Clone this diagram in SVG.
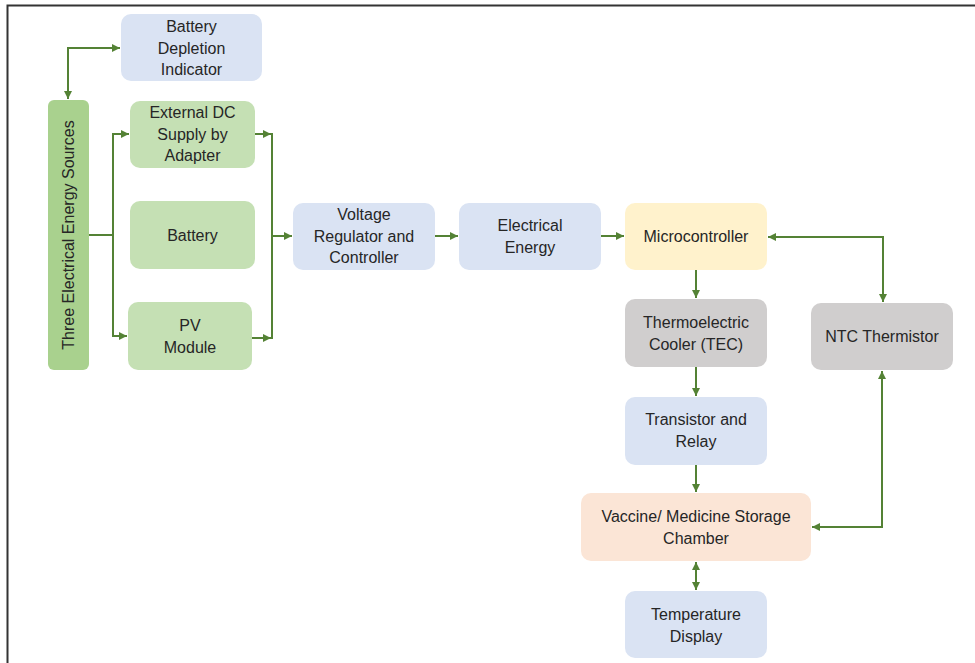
<svg xmlns="http://www.w3.org/2000/svg" width="975" height="663" viewBox="0 0 975 663">
<defs>
<marker id="ah" viewBox="0 0 8 8" refX="8" refY="4" markerWidth="8" markerHeight="8" markerUnits="userSpaceOnUse" orient="auto-start-reverse">
<path d="M0,0 L8,4 L0,8 Z" fill="#548235"/>
</marker>
</defs>
<style>
.n{stroke:none}
.blue{fill:#DAE3F3}
.green{fill:#C5E0B4}
.dgreen{fill:#A9D18E}
.yel{fill:#FFF2CC}
.gray{fill:#D0CECE}
.peach{fill:#FBE5D6}
text{font-family:"Liberation Sans","Noto Sans",sans-serif;font-size:16px;fill:#262626;text-anchor:middle}
.c{fill:none;stroke:#548235;stroke-width:2}
</style>
<rect x="0" y="0" width="975" height="663" fill="#ffffff"/>
<path d="M7.5,663 V5.5 H975" fill="none" stroke="#333333" stroke-width="2"/>

<g id="battery-depletion-indicator"><rect class="n blue" x="121" y="14" width="141" height="67" rx="10"/>
<text x="191.5" y="32">Battery</text><text x="191.5" y="53.5">Depletion</text><text x="191.5" y="75">Indicator</text></g>

<g id="three-sources"><rect class="n dgreen" x="48" y="100" width="41" height="270" rx="6"/>
<text transform="translate(74,235) rotate(-90)">Three Electrical Energy Sources</text></g>

<g id="external-dc"><rect class="n green" x="130" y="101" width="125" height="67" rx="10"/>
<text x="192.5" y="118">External DC</text><text x="192.5" y="139.5">Supply by</text><text x="192.5" y="161">Adapter</text></g>

<g id="battery"><rect class="n green" x="130" y="201" width="125" height="68" rx="10"/>
<text x="192.5" y="241">Battery</text></g>

<g id="pv-module"><rect class="n green" x="128" y="302" width="124" height="68" rx="10"/>
<text x="190" y="331">PV</text><text x="190" y="353">Module</text></g>

<g id="voltage-regulator"><rect class="n blue" x="293" y="203" width="142" height="67" rx="10"/>
<text x="364" y="220">Voltage</text><text x="364" y="241.5">Regulator and</text><text x="364" y="263">Controller</text></g>

<g id="electrical-energy"><rect class="n blue" x="459" y="203" width="142" height="67" rx="10"/>
<text x="530" y="231">Electrical</text><text x="530" y="253">Energy</text></g>

<g id="microcontroller"><rect class="n yel" x="625" y="203" width="142" height="67" rx="10"/>
<text x="696" y="241.5">Microcontroller</text></g>

<g id="tec"><rect class="n gray" x="625" y="299" width="142" height="68" rx="10"/>
<text x="696" y="328">Thermoelectric</text><text x="696" y="350">Cooler (TEC)</text></g>

<g id="ntc-thermistor"><rect class="n gray" x="811" y="303" width="142" height="67" rx="10"/>
<text x="882" y="341.5">NTC Thermistor</text></g>

<g id="transistor-relay"><rect class="n blue" x="625" y="397" width="142" height="68" rx="10"/>
<text x="696" y="425">Transistor and</text><text x="696" y="447">Relay</text></g>

<g id="storage-chamber"><rect class="n peach" x="581" y="493" width="230" height="68" rx="10"/>
<text x="696" y="522">Vaccine/ Medicine Storage</text><text x="696" y="544">Chamber</text></g>

<g id="temperature-display"><rect class="n blue" x="625" y="591" width="142" height="67" rx="10"/>
<text x="696" y="620">Temperature</text><text x="696" y="642">Display</text></g>

<g id="connectors">
<path class="c" d="M68,99 V48 H120" marker-start="url(#ah)" marker-end="url(#ah)"/>
<path class="c" d="M89,235 H112"/>
<path class="c" d="M113,235 V134"/>
<path class="c" d="M113,235 V336"/>
<path class="c" d="M112,134 H129" marker-end="url(#ah)"/>
<path class="c" d="M112,336 H127" marker-end="url(#ah)"/>
<path class="c" d="M255,134 H271" marker-end="url(#ah)"/>
<path class="c" d="M252,338 H271" marker-end="url(#ah)"/>
<path class="c" d="M272,133 V339"/>
<path class="c" d="M272,236 H292" marker-end="url(#ah)"/>
<path class="c" d="M435,236 H458" marker-end="url(#ah)"/>
<path class="c" d="M601,236 H624" marker-end="url(#ah)"/>
<path class="c" d="M768,237 H883 V302" marker-start="url(#ah)" marker-end="url(#ah)"/>
<path class="c" d="M696,270 V298" marker-end="url(#ah)"/>
<path class="c" d="M696,367 V396" marker-end="url(#ah)"/>
<path class="c" d="M696,465 V492" marker-end="url(#ah)"/>
<path class="c" d="M696,562 V590" marker-start="url(#ah)" marker-end="url(#ah)"/>
<path class="c" d="M812,527 H882 V371" marker-start="url(#ah)" marker-end="url(#ah)"/>
</g>
</svg>
